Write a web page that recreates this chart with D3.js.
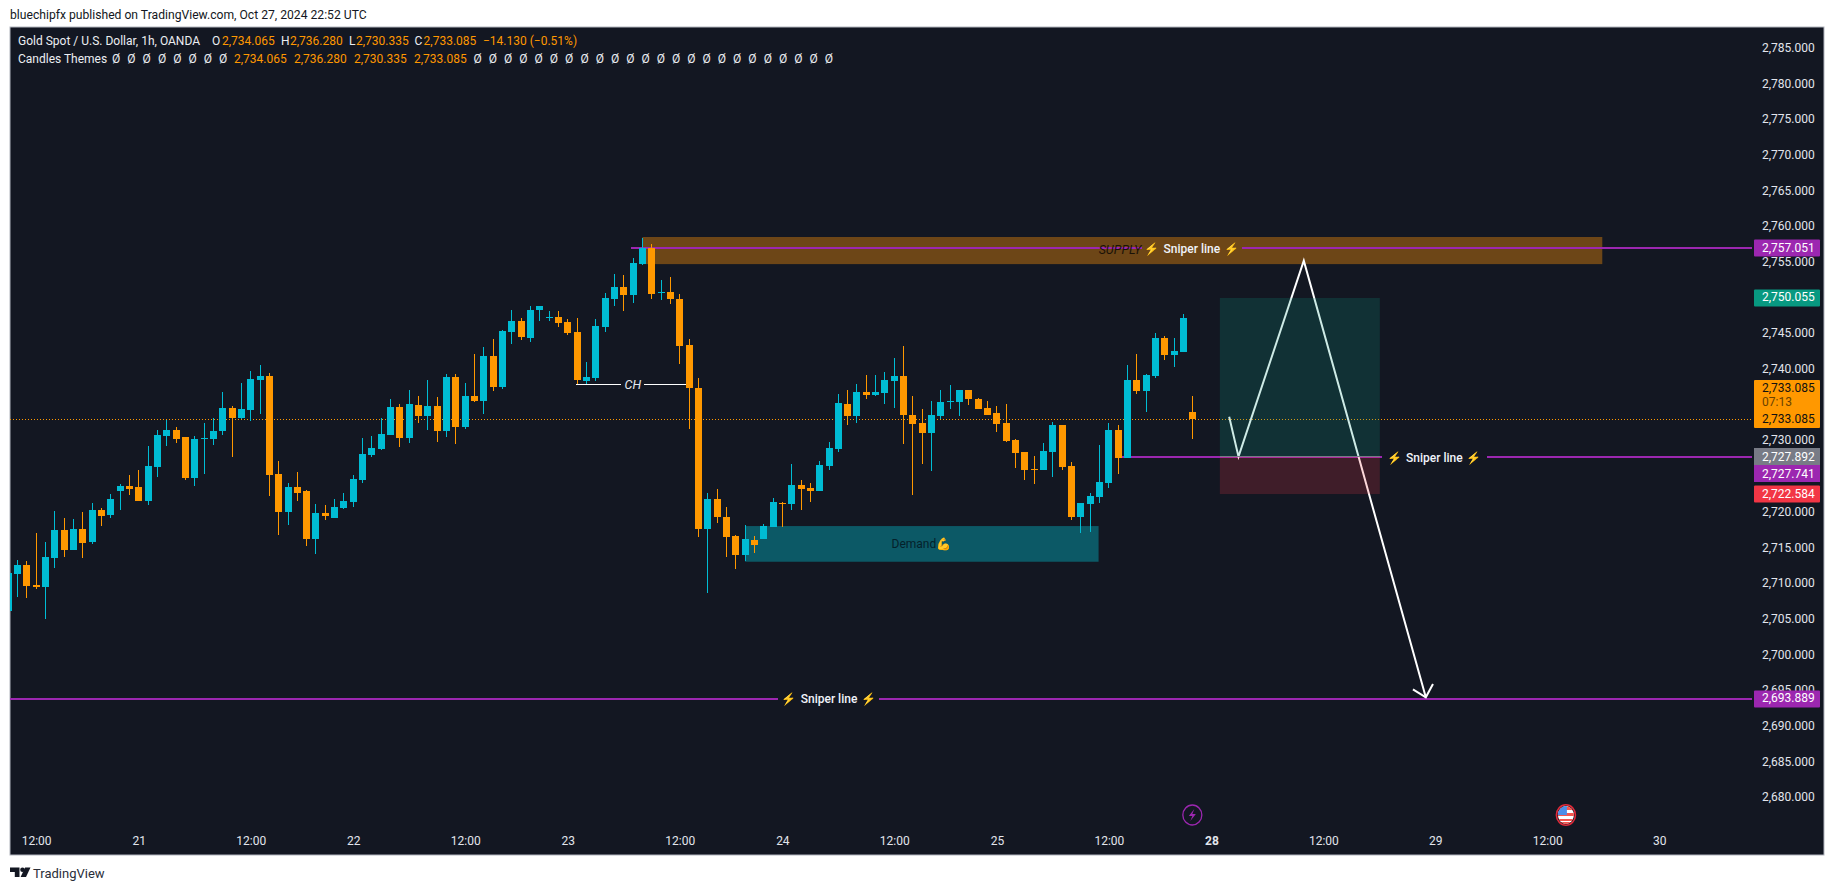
<!DOCTYPE html>
<html><head><meta charset="utf-8">
<script src="https://cdnjs.cloudflare.com/ajax/libs/d3/7.8.5/d3.min.js"></script>
<style>html,body{margin:0;padding:0;background:#fff;overflow:hidden}svg{display:block}text{font-family:Roboto,"DejaVu Sans",sans-serif}</style>
</head><body><div id="c"></div>
<script>
const opens=[2706.19,2711.38,2712.64,2709.84,2709.56,2713.62,2717.54,2714.74,2717.68,2715.86,2720.35,2719.65,2723.01,2723.71,2723.57,2721.61,2726.37,2730.72,2731.56,2730.58,2724.83,2730.30,2730.30,2731.42,2734.64,2733.24,2734.36,2738.56,2739.12,2725.39,2720.07,2723.57,2723.01,2716.28,2719.93,2719.23,2720.63,2721.47,2724.55,2728.05,2728.89,2730.86,2734.78,2730.44,2735.06,2733.52,2734.92,2731.42,2738.98,2731.98,2736.32,2735.62,2741.93,2737.58,2745.29,2746.83,2744.45,2748.37,2747.25,2747.39,2746.69,2745.29,2738.42,2738.84,2745.99,2749.91,2751.59,2750.47,2754.82,2757.06,2750.75,2750.89,2749.91,2743.47,2737.44,2717.68,2721.89,2719.37,2716.70,2714.04,2716.14,2716.28,2717.96,2721.33,2721.19,2723.85,2723.43,2723.01,2726.51,2728.89,2735.20,2733.52,2736.88,2736.46,2736.74,2738.42,2739.12,2733.66,2732.54,2731.14,2733.52,2735.53,2735.48,2737.16,2735.90,2734.64,2733.94,2732.54,2730.15,2728.47,2726.09,2725.95,2728.47,2732.26,2726.51,2719.36,2721.19,2722.17,2724.13,2731.55,2727.63,2738.56,2737.02,2739.12,2744.45,2742.06,2742.48,2734.065];
const closes=[2711.52,2712.64,2709.70,2709.56,2713.76,2717.54,2714.74,2717.68,2715.72,2720.35,2719.51,2721.89,2723.71,2723.29,2721.61,2726.51,2730.86,2731.56,2730.30,2724.83,2730.30,2730.44,2731.42,2734.64,2733.24,2734.50,2738.70,2739.12,2725.25,2720.07,2723.57,2722.73,2716.28,2719.93,2719.51,2720.77,2721.61,2724.69,2728.19,2729.03,2731.00,2734.78,2730.44,2735.20,2733.52,2734.92,2731.42,2738.98,2731.98,2736.32,2735.62,2741.93,2737.58,2745.43,2746.83,2744.59,2748.37,2748.93,2747.39,2746.55,2745.15,2738.56,2738.98,2746.13,2750.05,2751.59,2750.47,2754.96,2757.06,2750.61,2750.89,2749.91,2743.33,2737.44,2717.68,2721.89,2719.37,2716.56,2714.04,2716.28,2715.44,2718.10,2721.47,2721.19,2723.85,2723.29,2723.01,2726.65,2729.03,2735.34,2733.52,2736.88,2736.46,2736.88,2738.56,2739.12,2733.66,2732.40,2731.14,2733.66,2735.48,2735.62,2737.16,2735.90,2734.50,2733.66,2732.40,2730.01,2728.33,2725.95,2725.95,2728.61,2732.26,2726.37,2719.36,2721.33,2722.31,2724.27,2731.55,2727.63,2738.56,2737.02,2739.26,2744.45,2742.06,2742.62,2747.25,2733.085];
const highs=[2712.00,2713.34,2713.20,2717.12,2715.86,2720.21,2719.23,2719.09,2720.07,2721.33,2720.63,2722.59,2723.99,2725.25,2725.95,2729.31,2731.56,2732.96,2731.98,2730.58,2730.72,2732.54,2733.24,2736.88,2734.92,2738.14,2739.82,2740.66,2739.54,2727.21,2724.13,2725.67,2723.15,2721.19,2721.05,2721.89,2722.73,2725.25,2730.44,2730.72,2733.24,2735.90,2735.20,2737.16,2736.32,2738.56,2736.18,2739.40,2739.40,2738.14,2742.21,2743.19,2744.31,2745.57,2748.37,2747.25,2748.93,2748.93,2748.23,2748.23,2747.11,2747.25,2741.08,2747.11,2750.75,2753.41,2753.27,2755.66,2758.46,2757.62,2752.57,2752.99,2750.61,2744.31,2738.84,2722.73,2723.29,2720.77,2716.84,2718.24,2716.70,2718.38,2722.03,2721.47,2726.79,2724.55,2724.13,2727.21,2729.87,2736.60,2737.16,2738.00,2739.26,2739.26,2739.68,2741.64,2743.33,2736.32,2734.50,2735.62,2737.16,2737.86,2737.16,2737.16,2736.04,2735.62,2734.92,2735.20,2730.29,2728.47,2727.91,2729.73,2732.68,2732.26,2727.07,2721.33,2722.73,2729.45,2732.54,2732.26,2740.66,2742.20,2739.40,2745.15,2744.73,2744.45,2747.81,2736.280];
const lows=[2705.50,2708.16,2708.02,2709.28,2705.07,2712.22,2713.76,2714.74,2713.62,2715.58,2718.10,2719.23,2720.35,2722.45,2721.61,2721.05,2724.97,2729.31,2729.73,2724.55,2723.71,2725.39,2729.45,2730.86,2727.77,2733.10,2732.82,2733.80,2722.31,2716.84,2718.24,2721.61,2715.30,2714.18,2718.95,2719.23,2720.49,2720.77,2724.13,2727.77,2728.75,2730.86,2729.17,2729.73,2732.54,2731.56,2729.87,2730.58,2729.59,2731.70,2735.48,2733.80,2737.02,2737.30,2743.61,2744.17,2743.89,2746.83,2746.83,2745.99,2744.87,2738.00,2738.00,2738.42,2745.29,2748.93,2748.23,2749.35,2754.68,2749.91,2749.77,2749.21,2740.80,2731.70,2716.56,2708.72,2718.52,2713.76,2712.08,2713.20,2714.32,2716.28,2717.96,2717.96,2720.35,2720.35,2721.47,2723.01,2725.95,2728.47,2732.26,2732.54,2735.90,2736.32,2735.20,2734.64,2729.59,2722.45,2726.79,2725.81,2733.10,2734.50,2733.52,2735.06,2734.50,2733.66,2731.28,2729.87,2726.23,2724.55,2723.99,2725.95,2724.97,2725.95,2718.95,2717.13,2717.27,2721.33,2723.43,2725.39,2727.63,2736.60,2734.08,2738.84,2741.36,2740.38,2742.48,2730.335];

const priceTicks=[2785,2780,2775,2770,2765,2760,2755,2745,2740,2730,2720,2715,2710,2705,2700,2695,2690,2685,2680];
const timeBars=[3,14,26,37,49,60,72,83,95,106,118,129,141,153,165,177];
const timeLabels=["12:00","21","12:00","22","12:00","23","12:00","24","12:00","25","12:00","28","12:00","29","12:00","30"];
const priceTags=[
 {p:2757.051,c:"#9c27b0",t:"#fff"},{p:2750.055,c:"#089981",t:"#fff"},
 {p:2722.584,c:"#f23645",t:"#fff"},{p:2693.889,c:"#9c27b0",t:"#fff"}];
const entryTag=2727.892, sniperTag=2727.741;
const lastPrice=2733.085, lastTimer="07:13";
const sniperLines=[
 {p:2757.051,a:66.8,g1:121.6,g2:132.3,b:187,m:126.9},
 {p:2727.741,a:119.4,g1:147.3,g2:158.5,b:187,m:152.9},
 {p:2693.889,a:-1,g1:82.5,g2:93.4,b:187,m:88}];
const supplyZone={a:68,b:170.9,p1:2758.6,p2:2754.8,tb:119.2};
const demandZone={a:79,b:116.9,p1:2718.1,p2:2713.1};
const chLine={p:2737.96,a:60.86,g1:65.75,g2:68.14,b:72.7,m:66.96};
const position={a:129.9,b:147.05,target:2750.055,entry:2727.892,stop:2722.584};
const pathPoints=[[130.9,2733.42],[131.9,2727.82],[138.9,2755.28],[151.98,2694.11]];
const arrowPoints=[[150.6,2695.23],[151.98,2694.11],[152.75,2695.97]];
const eventBars=[126.95,167];

const W=1835,H=891;
const L=10,R=1824,T=27,B=855;
const x=d3.scaleLinear().domain([0,127]).range([8.17,1192.8]);
const y=d3.scaleLinear().domain([2680,2760]).range([798,227]);
const fmt=d3.format(",.3f");
const ORANGE="#ff9800",CYAN="#00bcd4",PURPLE="#9c27b0";

const svg=d3.select("#c").append("svg").attr("width",W).attr("height",H);
svg.append("text").attr("x",10).attr("y",19).attr("font-size",12.15).attr("fill","#131722").text("bluechipfx published on TradingView.com, Oct 27, 2024 22:52 UTC");
svg.append("rect").attr("x",L).attr("y",T).attr("width",R-L).attr("height",B-T).attr("fill","#131722").attr("stroke","#b2b5be").attr("stroke-width",1);
svg.append("defs").append("clipPath").attr("id","pane").append("rect").attr("x",L).attr("y",T).attr("width",1744).attr("height",B-T);
const pane=svg.append("g").attr("clip-path","url(#pane)");

// zones
pane.append("rect").attr("x",x(supplyZone.a)).attr("width",x(supplyZone.b)-x(supplyZone.a)).attr("y",y(supplyZone.p1)).attr("height",y(supplyZone.p2)-y(supplyZone.p1)).attr("fill","#6d4617");
pane.append("rect").attr("x",x(demandZone.a)).attr("width",x(demandZone.b)-x(demandZone.a)).attr("y",y(demandZone.p1)).attr("height",y(demandZone.p2)-y(demandZone.p1)).attr("fill","#0c5966");

// last price dotted
pane.append("line").attr("x1",L).attr("x2",1752).attr("y1",y(lastPrice)).attr("y2",y(lastPrice)).attr("stroke",ORANGE).attr("stroke-width",1).attr("stroke-dasharray","1 2").attr("shape-rendering","crispEdges");

// sniper lines
sniperLines.forEach(s=>{
  [[s.a,s.g1],[s.g2,s.b]].forEach(([u,v])=>pane.append("line").attr("x1",x(u)).attr("x2",x(v)).attr("y1",Math.round(y(s.p))).attr("y2",Math.round(y(s.p))).attr("stroke",PURPLE).attr("stroke-width",2).attr("shape-rendering","crispEdges"));
});

// white path
const ln=d3.line().x(d=>x(d[0])).y(d=>y(d[1]));
pane.append("path").attr("d",ln(pathPoints)).attr("fill","none").attr("stroke","#fff").attr("stroke-width",2);
pane.append("path").attr("d",ln(arrowPoints)).attr("fill","none").attr("stroke","#fff").attr("stroke-width",2);

// position box
pane.append("rect").attr("x",x(position.a)).attr("width",x(position.b)-x(position.a)).attr("y",y(position.target)).attr("height",y(position.entry)-y(position.target)).attr("fill","#089981").attr("fill-opacity",.2);
pane.append("rect").attr("x",x(position.a)).attr("width",x(position.b)-x(position.a)).attr("y",y(position.entry)).attr("height",y(position.stop)-y(position.entry)).attr("fill","#f23645").attr("fill-opacity",.2);
pane.append("line").attr("x1",x(position.a)).attr("x2",x(position.b)).attr("y1",Math.round(y(position.entry))).attr("y2",Math.round(y(position.entry))).attr("stroke","#787b86").attr("stroke-width",1).attr("shape-rendering","crispEdges");

// CH
[[chLine.a,chLine.g1],[chLine.g2,chLine.b]].forEach(([u,v])=>pane.append("line").attr("x1",x(u)).attr("x2",x(v)).attr("y1",Math.round(y(chLine.p))+.5).attr("y2",Math.round(y(chLine.p))+.5).attr("stroke","#fff").attr("stroke-width",1).attr("shape-rendering","crispEdges"));
pane.append("text").attr("x",x(chLine.m)).attr("y",y(chLine.p)+4.5).attr("text-anchor","middle").attr("font-size",12.5).attr("font-style","italic").attr("fill","#e6e8ee").text("CH");

// candles
const bars=d3.range(opens.length);
const g=pane.append("g").attr("shape-rendering","crispEdges");
const col=i=>closes[i]>=opens[i]?CYAN:ORANGE;
g.selectAll("rect.w").data(bars).join("rect").attr("class","w")
  .attr("x",i=>Math.floor(x(i))).attr("width",1).attr("y",i=>y(highs[i])).attr("height",i=>y(lows[i])-y(highs[i])).attr("fill",col);
g.selectAll("rect.b").data(bars).join("rect").attr("class","b")
  .attr("x",i=>Math.floor(x(i))-3).attr("width",7)
  .attr("y",i=>y(Math.max(opens[i],closes[i]))).attr("height",i=>Math.max(1,Math.abs(y(opens[i])-y(closes[i])))).attr("fill",col);

// labels on top
function sniper(mx,p){
  const t=pane.append("text").attr("x",x(mx)).attr("y",y(p)+4.5).attr("text-anchor","middle").attr("font-size",12).attr("fill","#f0f3fa").attr("font-weight",500);
  const bolt=()=>t.append("tspan").style("font-family","'Noto Color Emoji','Noto Emoji',Roboto").attr("font-size",12).text("\u26A1\uFE0F");
  bolt();
  t.append("tspan").attr("dx",4).text("Sniper line");
  bolt().attr("dx",4);
}
sniperLines.forEach(s=>sniper(s.m,s.p));
pane.append("text").attr("x",x(supplyZone.tb)).attr("y",y(2757.051)+6).attr("text-anchor","middle").attr("font-size",12.5).attr("font-style","italic").attr("fill","#1a1208").text("SUPPLY");
pane.append("text").attr("x",x(97.9)).attr("y",y(2715.6)+4).attr("text-anchor","middle").attr("font-size",12).attr("fill","#04212b").text("Demand💪");

// price axis
const ya=d3.axisRight(y).tickValues(priceTicks).tickSize(0).tickPadding(0).tickFormat(fmt);
const yg=svg.append("g").attr("transform","translate(1762,-1)").call(ya);
yg.select(".domain").remove();
yg.selectAll("text").attr("font-size",12).attr("font-family","Roboto").attr("fill","#e2e5ec");

// time axis
const xa=d3.axisBottom(x).tickValues(timeBars).tickSize(0).tickPadding(0).tickFormat((d,i)=>timeLabels[i]);
const xg=svg.append("g").attr("transform","translate(0,836)").call(xa);
xg.select(".domain").remove();
xg.selectAll("text").attr("font-size",12).attr("font-family","Roboto").attr("fill","#e2e5ec").attr("font-weight",(d,i)=>timeLabels[i]=="28"?700:400);

// price tags
priceTags.forEach(t=>{
  const yy=Math.round(y(t.p));
  svg.append("rect").attr("x",1754).attr("y",yy-8.5).attr("width",66).attr("height",17).attr("rx",1).attr("fill",t.c);
  svg.append("text").attr("x",1762).attr("y",y(t.p)+3.5).attr("font-size",12).attr("fill",t.t).text(fmt(t.p));
});
// gray and purple tags stack
svg.append("rect").attr("x",1754).attr("y",448).attr("width",66).attr("height",17).attr("fill","#787b86");
svg.append("text").attr("x",1762).attr("y",460.5).attr("font-size",12).attr("fill","#fff").text(fmt(entryTag));
svg.append("rect").attr("x",1754).attr("y",465).attr("width",66).attr("height",17).attr("fill","#9c27b0");
svg.append("text").attr("x",1762).attr("y",477.5).attr("font-size",12).attr("fill","#fff").text(fmt(sniperTag));
// last price tag
svg.append("rect").attr("x",1754).attr("y",380).attr("width",66).attr("height",48).attr("rx",1).attr("fill",ORANGE);
svg.append("text").attr("x",1762).attr("y",392).attr("font-size",12).attr("fill","#111").text(fmt(lastPrice));
svg.append("text").attr("x",1762).attr("y",406).attr("font-size",12).attr("fill","#6b4200").text(lastTimer);
svg.append("text").attr("x",1762).attr("y",423).attr("font-size",12).attr("fill","#111").text(fmt(lastPrice));

// header rows
function seg(xp,yp,txt,fill){svg.append("text").attr("x",xp).attr("y",yp).attr("font-size",12).attr("fill",fill).text(txt);}
const WH="#eceef2",OR=ORANGE;
seg(18,45,"Gold Spot / U.S. Dollar, 1h, OANDA",WH);
seg(212,45,"O",WH);seg(222,45,fmt(2734.065),OR);
seg(281,45,"H",WH);seg(290,45,fmt(2736.28),OR);
seg(349,45,"L",WH);seg(356,45,fmt(2730.335),OR);
seg(414.5,45,"C",WH);seg(423.6,45,fmt(2733.085),OR);
seg(483,45,"−14.130 (−0.51%)",OR);
seg(18,63,"Candles Themes",WH);
d3.range(8).forEach(i=>seg(112+i*15.3,63,"Ø",WH));
[2734.065,2736.28,2730.335,2733.085].forEach((v,i)=>seg(234+i*60,63,fmt(v),OR));
d3.range(24).forEach(i=>seg(473.5+i*15.27,63,"Ø",WH));

// event icons
const ev=svg.append("g");
ev.append("ellipse").attr("cx",x(eventBars[0])).attr("cy",815).attr("rx",9.5).attr("ry",10).attr("fill","none").attr("stroke",PURPLE).attr("stroke-width",1.3);
ev.append("path").attr("transform",`translate(${x(eventBars[0])},815)`).attr("d","M2 -6L-3.5 1H0L-2 6L3.5 -1H0Z").attr("fill",PURPLE);
const fx=x(eventBars[1]);
const cp=svg.select("defs").append("clipPath").attr("id","fl");cp.append("ellipse").attr("cx",fx).attr("cy",815).attr("rx",8).attr("ry",9);
const fl=ev.append("g").attr("clip-path","url(#fl)");
fl.append("rect").attr("x",fx-9).attr("y",805).attr("width",18).attr("height",20).attr("fill","#fff");
[[807,3],[813,3],[819,2],[822,3]].forEach(r=>fl.append("rect").attr("x",fx-9).attr("y",r[0]).attr("width",18).attr("height",r[1]).attr("fill","#f4574f"));
fl.append("rect").attr("x",fx-9).attr("y",805).attr("width",10).attr("height",10).attr("fill","#4d8ee8");
ev.append("ellipse").attr("cx",fx).attr("cy",815).attr("rx",9.5).attr("ry",10.3).attr("fill","none").attr("stroke","#e02a3a").attr("stroke-width",1.6);

// logo
const lg=svg.append("g").attr("fill","#131722");
lg.append("path").attr("d","M10 867.5h9.5v9.5h-4.7v-5H10z");
lg.append("circle").attr("cx",22.5).attr("cy",869.8).attr("r",2.3);
lg.append("path").attr("d","M30.5 867.5L26 877h-5.4l4.5-9.5z");
svg.append("text").attr("x",33).attr("y",878).attr("font-size",13).attr("fill","#2a2e39").text("TradingView");
</script></body></html>
